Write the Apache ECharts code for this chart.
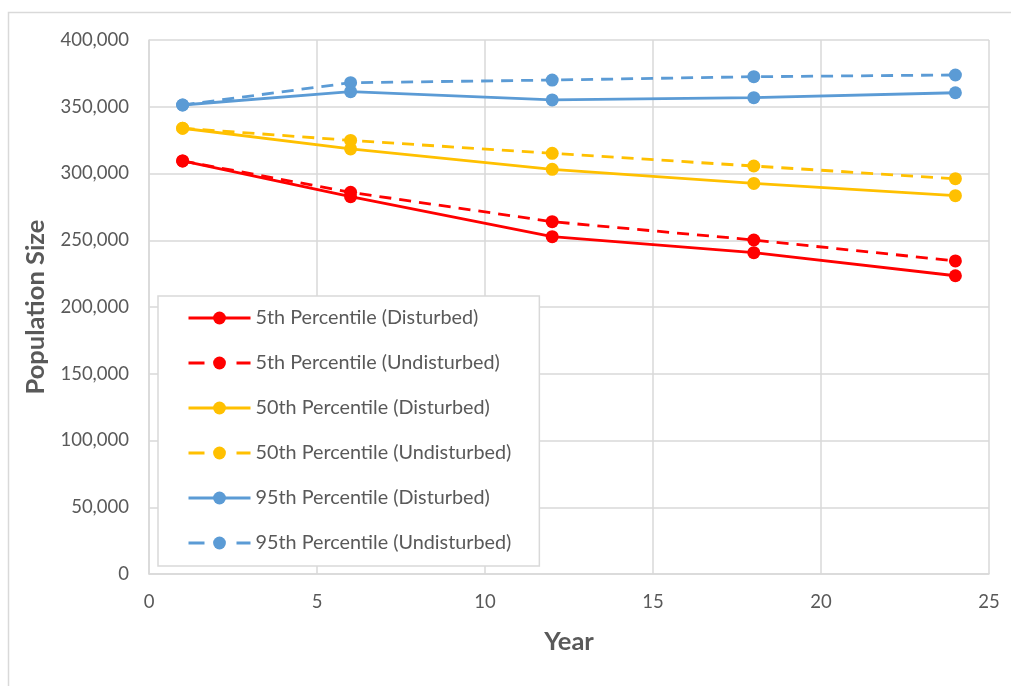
<!DOCTYPE html>
<html>
<head>
<meta charset="utf-8">
<script src="https://cdn.jsdelivr.net/npm/echarts@6/dist/echarts.min.js"></script>
<style>
html,body{margin:0;padding:0;background:#fff;}
#chart{width:1011px;height:686px;}
</style>
</head>
<body>
<div id="chart"></div>
<script>
const years = [1, 6, 12, 18, 24];
const p5Disturbed = [309400, 282600, 252700, 240700, 223400];
const p5Undisturbed = [309400, 285900, 263900, 250200, 234500];
const p50Disturbed = [333900, 318400, 303100, 292600, 283400];
const p50Undisturbed = [333900, 324800, 315100, 305600, 296100];
const p95Disturbed = [351300, 361300, 355100, 356800, 360500];
const p95Undisturbed = [351300, 368000, 370000, 372500, 373800];
const seriesNames = [
  '5th Percentile (Disturbed)',
  '5th Percentile (Undisturbed)',
  '50th Percentile (Disturbed)',
  '50th Percentile (Undisturbed)',
  '95th Percentile (Disturbed)',
  '95th Percentile (Undisturbed)'
];
const xAxisTitle = 'Year';
const yAxisTitle = 'Population Size';

const RED = '#FF0000', YEL = '#FFC000', BLU = '#5B9BD5';
const TXT = '#595959', GRID = '#D9D9D9';
const FONT = 'Lato, "Noto Sans", sans-serif';

function mk(name, vals, color, dashed) {
  return {
    name: name,
    type: 'line',
    data: years.map((y, i) => [y, vals[i]]),
    symbol: 'circle',
    symbolSize: 13,
    showSymbol: true,
    itemStyle: { color: color },
    lineStyle: { color: color, width: 2.8, type: dashed ? [12, 8] : 'solid' },
    emphasis: { disabled: true },
    z: dashed ? 3 : 2
  };
}

const legendData = seriesNames.map((n, i) => (i % 2 === 1)
  ? { name: n, lineStyle: { type: [16, 32], width: 3 } }
  : { name: n, lineStyle: { width: 3 } });

const chart = echarts.init(document.getElementById('chart'), null, { renderer: 'canvas' });
chart.setOption({
  animation: false,
  backgroundColor: '#fff',
  textStyle: { fontFamily: FONT },
  graphic: [{
    type: 'rect',
    shape: { x: 8.5, y: 12.5, width: 1100, height: 800 },
    style: { fill: 'none', stroke: GRID, lineWidth: 1.5 },
    silent: true
  }],
  grid: { left: 149, right: 22, top: 40, bottom: 112, show: false },
  legend: {
    orient: 'vertical',
    left: 158,
    top: 296,
    padding: [12, 28, 13, 29],
    itemWidth: 62,
    itemHeight: 16,
    itemGap: 25,
    borderColor: GRID,
    borderWidth: 1.5,
    backgroundColor: '#fff',
    textStyle: { color: TXT, fontSize: 19.8, fontFamily: FONT, lineHeight: 20 },
    data: legendData
  },
  xAxis: {
    type: 'value',
    min: 0, max: 25, interval: 5,
    name: xAxisTitle,
    nameLocation: 'middle',
    nameGap: 55,
    nameTextStyle: { color: TXT, fontSize: 25.5, fontWeight: 'bold', fontFamily: FONT },
    axisLine: { show: true, lineStyle: { color: GRID, width: 1.5 } },
    axisTick: { show: false },
    axisLabel: { color: TXT, fontSize: 18.5, margin: 19, fontFamily: FONT },
    splitLine: { show: true, lineStyle: { color: GRID, width: 1.5 } }
  },
  yAxis: {
    type: 'value',
    min: 0, max: 400000, interval: 50000,
    name: yAxisTitle,
    nameLocation: 'middle',
    nameGap: 100,
    nameTextStyle: { color: TXT, fontSize: 25.5, fontWeight: 'bold', fontFamily: FONT },
    axisLine: { show: true, lineStyle: { color: GRID, width: 1.5 } },
    axisTick: { show: false },
    axisLabel: {
      color: TXT, fontSize: 18.5, margin: 20, fontFamily: FONT,
      formatter: v => v.toLocaleString('en-US')
    },
    splitLine: { show: true, lineStyle: { color: GRID, width: 1.5 } }
  },
  series: [
    mk(seriesNames[0], p5Disturbed, RED, false),
    mk(seriesNames[1], p5Undisturbed, RED, true),
    mk(seriesNames[2], p50Disturbed, YEL, false),
    mk(seriesNames[3], p50Undisturbed, YEL, true),
    mk(seriesNames[4], p95Disturbed, BLU, false),
    mk(seriesNames[5], p95Undisturbed, BLU, true)
  ]
});
</script>
</body>
</html>
